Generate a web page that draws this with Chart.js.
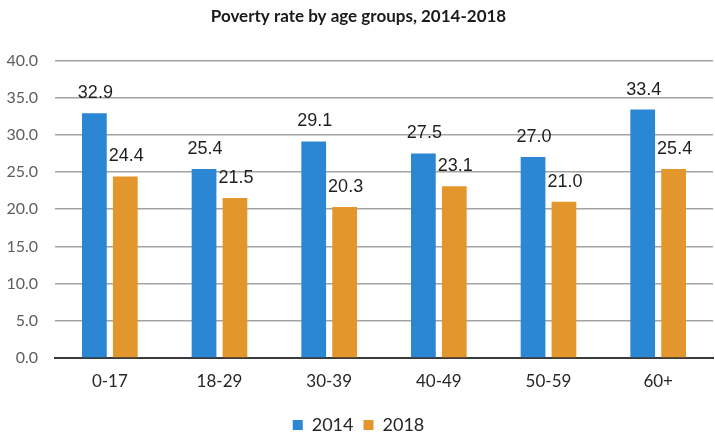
<!DOCTYPE html>
<html lang="en">
<head>
    <meta charset="UTF-8">
    <title>Poverty rate by age groups</title>
    <script src="https://cdn.jsdelivr.net/npm/chart.js"></script>
    <style>
        body {
            margin: 0;
            padding: 0;
            background: #ffffff;
        }
        .chart-box {
            width: 715px;
            height: 435px;
        }
    </style>
</head>
<body>
    <div class="chart-box">
        <canvas id="myChart"></canvas>
    </div>
    <script>
        const ageGroups = ['0-17', '18-29', '30-39', '40-49', '50-59', '60+'];
        const rate2014 = [32.9, 25.4, 29.1, 27.5, 27.0, 33.4];
        const rate2018 = [24.4, 21.5, 20.3, 23.1, 21.0, 25.4];
        const yTicks = [0, 5, 10, 15, 20, 25, 30, 35, 40];

        // draws the value above each bar
        const barLabels = {
            id: 'barLabels',
            afterDatasetsDraw(chart) {
                const ctx = chart.ctx;
                ctx.save();
                ctx.font = '18px "Liberation Sans"';
                ctx.fillStyle = '#1f1f1f';
                ctx.textAlign = 'center';
                ctx.textBaseline = 'alphabetic';
                chart.data.datasets.forEach((ds, i) => {
                    chart.getDatasetMeta(i).data.forEach((bar, j) => {
                        ctx.fillText(ds.data[j].toFixed(1), bar.x + 1, bar.y - 15);
                    });
                });
                ctx.restore();
            }
        };

        new Chart(document.getElementById('myChart'), {
            type: 'bar',
            data: {
                labels: ageGroups,
                datasets: [
                    {
                        label: '2014',
                        data: rate2014,
                        backgroundColor: '#2b86d3',
                        categoryPercentage: 0.564,
                        barPercentage: 0.8
                    },
                    {
                        label: '2018',
                        data: rate2018,
                        backgroundColor: '#e3962b',
                        categoryPercentage: 0.564,
                        barPercentage: 0.8
                    }
                ]
            },
            options: {
                responsive: true,
                maintainAspectRatio: false,
                animation: false,
                layout: {
                    padding: { left: 4, right: 2, top: 0, bottom: -9 }
                },
                plugins: {
                    title: {
                        display: true,
                        text: 'Poverty rate by age groups, 2014-2018',
                        font: { family: 'Lato', size: 17, weight: 'bold' },
                        color: '#1a1a1a',
                        padding: { top: 6, bottom: 34 }
                    },
                    legend: {
                        position: 'bottom',
                        labels: {
                            font: { family: 'Lato', size: 18 },
                            color: '#262626',
                            boxWidth: 10,
                            boxHeight: 10,
                            padding: 10
                        }
                    },
                    tooltip: { enabled: false }
                },
                scales: {
                    x: {
                        afterFit(scale) {
                            scale.height = 48;
                        },
                        grid: { display: false, drawTicks: false },
                        border: { display: true, color: '#3a3a3a', width: 2 },
                        ticks: {
                            font: { family: 'Lato', size: 17 },
                            color: '#262626',
                            padding: 13
                        }
                    },
                    y: {
                        min: 0,
                        max: 40,
                        afterBuildTicks(axis) {
                            axis.ticks = yTicks.map(v => ({ value: v }));
                        },
                        afterFit(scale) {
                            scale.width = 51;
                        },
                        border: { display: false },
                        grid: { color: '#a3a3a3', lineWidth: 1.5, drawTicks: false },
                        ticks: {
                            font: { family: 'Lato', size: 16 },
                            color: '#5e5e5e',
                            padding: 17,
                            callback: v => v.toFixed(1)
                        }
                    }
                }
            },
            plugins: [barLabels]
        });
    </script>
</body>
</html>
